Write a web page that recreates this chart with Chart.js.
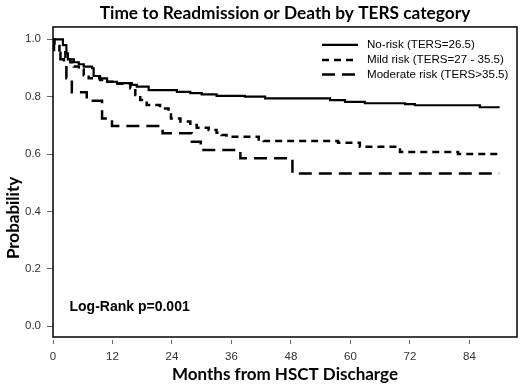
<!DOCTYPE html>
<html>
<head>
<meta charset="utf-8">
<script src="https://cdn.jsdelivr.net/npm/chart.js@4/dist/chart.umd.min.js"></script>
<style>
  html, body { margin: 0; padding: 0; background: #fff; }
  #wrap { width: 520px; height: 385px; position: relative; }
</style>
</head>
<body>
<div id="wrap"><canvas id="c" width="520" height="385"></canvas></div>
<script>
// ---- data ----
const chartTitle = "Time to Readmission or Death by TERS category";
const xTitle = "Months from HSCT Discharge";
const yTitle = "Probability";
const annotation = "Log-Rank p=0.001";

const xTicks = [0, 12, 24, 36, 48, 60, 72, 84];
const yTicks = [0.0, 0.2, 0.4, 0.6, 0.8, 1.0];

const seriesLabels = ["No-risk (TERS=26.5)", "Mild risk (TERS=27 - 35.5)", "Moderate risk (TERS>35.5)"];

const noRiskMonths = [0, 2.0, 2.7, 3.0, 4.2, 5.2, 6.2, 7.9, 8.2, 9.5, 10.9, 12.9, 15.9, 16.9, 19.3, 25.0, 27.7, 30.0, 33.0, 38.7, 42.8, 55.9, 58.9, 62.9, 71.0, 73.0, 86.1, 90.1];
const noRiskProb   = [1.0, 0.980, 0.951, 0.930, 0.920, 0.913, 0.905, 0.899, 0.872, 0.864, 0.852, 0.847, 0.841, 0.835, 0.823, 0.817, 0.812, 0.808, 0.803, 0.800, 0.794, 0.788, 0.782, 0.777, 0.774, 0.770, 0.763, 0.763];

const mildMonths = [0, 0.3, 1.3, 2.5, 3.5, 4.2, 5.2, 6.2, 7.2, 9.5, 11.0, 13.0, 15.6, 16.6, 17.6, 18.9, 21.6, 23.3, 23.8, 25.7, 27.7, 29.0, 31.4, 33.0, 34.0, 35.0, 41.5, 42.5, 57.5, 61.9, 70.0, 81.7, 90.0];
const mildProb   = [1.0, 0.985, 0.955, 0.935, 0.920, 0.905, 0.895, 0.875, 0.864, 0.858, 0.852, 0.845, 0.829, 0.806, 0.788, 0.771, 0.759, 0.742, 0.724, 0.713, 0.701, 0.692, 0.684, 0.674, 0.666, 0.660, 0.651, 0.645, 0.639, 0.625, 0.607, 0.600, 0.600];

const moderateMonths = [0, 0.2, 1.5, 2.2, 2.7, 3.8, 6.8, 9.9, 11.9, 22.1, 28.0, 29.8, 37.8, 48.3, 90.0];
const moderateProb   = [1.0, 0.953, 0.930, 0.910, 0.864, 0.815, 0.786, 0.724, 0.698, 0.672, 0.643, 0.614, 0.585, 0.532, 0.532];

// ---- build chart ----
const toPoints = (xs, ys) => xs.map((x, i) => ({ x: x, y: ys[i] }));
const dashes = [[], [7, 5], [13, 7]];
const widths = [2.2, 2.5, 2.5];

const datasets = [
  toPoints(noRiskMonths, noRiskProb),
  toPoints(mildMonths, mildProb),
  toPoints(moderateMonths, moderateProb)
].map((pts, i) => ({
  label: seriesLabels[i],
  data: pts,
  stepped: true,
  borderColor: '#000',
  borderWidth: widths[i],
  borderDash: dashes[i],
  pointRadius: 0,
  fill: false,
  tension: 0
}));

const boxPlugin = {
  id: 'boxAndLegend',
  afterDraw(chart) {
    const ctx = chart.ctx;
    const a = chart.chartArea;
    ctx.save();
    // frame
    ctx.strokeStyle = '#000';
    ctx.lineWidth = 1.5;
    ctx.strokeRect(a.left, a.top, a.right - a.left, a.bottom - a.top);
    // legend
    const lx0 = a.right - 195, lx1 = a.right - 159, tx = a.right - 150;
    const rows = [a.top + 18, a.top + 33, a.top + 47.5];
    ctx.font = '11.6px "Liberation Sans", Arial, sans-serif';
    ctx.fillStyle = '#000';
    ctx.textBaseline = 'middle';
    chart.data.datasets.forEach((ds, i) => {
      ctx.beginPath();
      ctx.setLineDash(ds.borderDash || []);
      ctx.lineWidth = ds.borderWidth;
      ctx.moveTo(lx0, rows[i]);
      ctx.lineTo(lx1, rows[i]);
      ctx.stroke();
      ctx.setLineDash([]);
      ctx.fillText(ds.label, tx, rows[i]);
    });
    // annotation
    ctx.font = 'bold 14px "Liberation Sans", Arial, sans-serif';
    ctx.textBaseline = 'middle';
    ctx.fillText(annotation, a.left + 16.5, a.bottom - 30);
    // y axis title (placed as in the reference, below the plot centre)
    ctx.save();
    ctx.translate(14, a.top + 191);
    ctx.rotate(-Math.PI / 2);
    ctx.font = 'bold 17px Lato, "Open Sans", sans-serif';
    ctx.textAlign = 'center';
    ctx.textBaseline = 'middle';
    ctx.fillText(yTitle, 0, 0);
    ctx.restore();
    ctx.restore();
  }
};

new Chart(document.getElementById('c'), {
  type: 'line',
  data: { datasets: datasets },
  options: {
    responsive: false,
    animation: false,
    layout: { padding: { left: 0, right: 3, top: 0, bottom: 0 } },
    plugins: {
      legend: { display: false },
      tooltip: { enabled: false },
      title: {
        display: true,
        fullSize: false,
        text: chartTitle,
        color: '#000',
        font: { family: 'Lato, "Open Sans", sans-serif', size: 17.3, weight: 'bold', lineHeight: 1.2 },
        padding: { top: 3.5, bottom: 2.7 }
      }
    },
    scales: {
      x: {
        type: 'linear',
        min: 0,
        max: 93.6,
        afterFit(scale) { scale.height = 48; },
        afterBuildTicks(scale) { scale.ticks = xTicks.map(v => ({ value: v })); },
        grid: {
          drawOnChartArea: false,
          drawTicks: true,
          tickLength: 7,
          color: '#666',
          lineWidth: 1,
          tickBorderDash: [0, 3, 4, 20]
        },
        border: { display: false },
        ticks: {
          color: '#333',
          font: { family: '"Liberation Sans", Arial, sans-serif', size: 11.5 },
          padding: 6,
          maxRotation: 0,
          autoSkip: false,
          callback: v => String(v)
        },
        title: {
          display: true,
          text: xTitle,
          color: '#000',
          font: { family: 'Lato, "Open Sans", sans-serif', size: 17, weight: 'bold', lineHeight: 1.2 },
          padding: { top: 0, bottom: 0 }
        }
      },
      y: {
        type: 'linear',
        min: -0.038,
        max: 1.043,
        afterFit(scale) { scale.width = 53; },
        afterBuildTicks(scale) { scale.ticks = yTicks.map(v => ({ value: v })); },
        grid: {
          drawOnChartArea: false,
          drawTicks: true,
          tickLength: 6,
          color: '#666',
          lineWidth: 1
        },
        border: { display: false },
        ticks: {
          color: '#333',
          font: { family: '"Liberation Sans", Arial, sans-serif', size: 11.5 },
          padding: 6,
          autoSkip: false,
          callback: v => Number(v).toFixed(1)
        },
        title: { display: false }
      }
    }
  },
  plugins: [boxPlugin]
});
</script>
</body>
</html>
